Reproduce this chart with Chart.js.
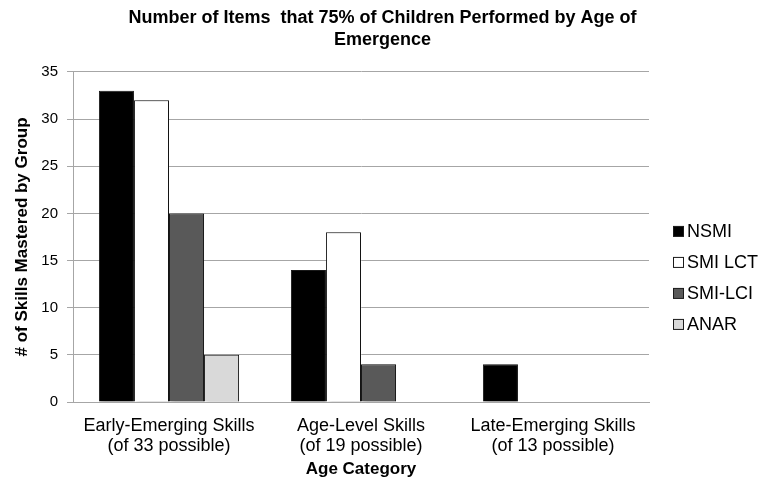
<!DOCTYPE html>
<html>
<head>
<meta charset="utf-8">
<script src="https://cdn.jsdelivr.net/npm/chart.js@4.4.1/dist/chart.umd.min.js"></script>
<style>
  html, body { margin: 0; padding: 0; background: #ffffff; }
  #wrap { width: 765px; height: 487px; position: relative; }
</style>
</head>
<body>
<div id="wrap"><canvas id="chart" width="765" height="487"></canvas></div>
<script>
// Age categories (two-line axis labels)
const categories = [
  ["Early-Emerging Skills", "(of 33 possible)"],
  ["Age-Level Skills", "(of 19 possible)"],
  ["Late-Emerging Skills", "(of 13 possible)"]
];

// Skills mastered by each group
const nsmi   = [33, 14, 4];
const smiLct = [32, 18, 0];
const smiLci = [20, 4, 0];
const anar   = [5, 0, 0];

const yTicks = [0, 5, 10, 15, 20, 25, 30, 35];

const FONT = "'Liberation Sans', Arial, sans-serif";
const GRID = '#a6a6a6';

// soft drop shadow behind the bars
const barShadow = {
  id: 'barShadow',
  beforeDatasetDraw(chart) {
    const ctx = chart.ctx;
    ctx.save();
    ctx.shadowColor = 'rgba(0,0,0,0.35)';
    ctx.shadowBlur = 3;
    ctx.shadowOffsetX = 2;
    ctx.shadowOffsetY = 1;
  },
  afterDatasetDraw(chart) {
    chart.ctx.restore();
  }
};

// compact legend to the right of the plot: small square, label right next to it
const sideLegend = {
  id: 'sideLegend',
  afterDraw(chart) {
    const ctx = chart.ctx;
    const area = chart.chartArea;
    const x0 = area.right + 24;
    const y0 = area.top + 160;
    const rowGap = 31;
    ctx.save();
    ctx.font = '18px ' + FONT;
    ctx.textBaseline = 'middle';
    ctx.textAlign = 'left';
    chart.data.datasets.forEach((ds, i) => {
      const y = y0 + i * rowGap;
      ctx.fillStyle = ds.backgroundColor;
      ctx.fillRect(x0 + 0.5, y - 5.5, 10, 10);
      ctx.strokeStyle = ds.borderColor;
      ctx.lineWidth = 1;
      ctx.strokeRect(x0 + 0.5, y - 5.5, 10, 10);
      ctx.fillStyle = '#000';
      ctx.fillText(ds.label, x0 + 14, y);
    });
    ctx.restore();
  }
};

function series(label, data, fill) {
  return {
    label: label,
    data: data,
    backgroundColor: fill,
    borderColor: '#1a1a1a',
    borderWidth: 1,
    borderSkipped: 'bottom',
    barPercentage: 1.0,
    categoryPercentage: 0.73
  };
}

new Chart(document.getElementById('chart'), {
  type: 'bar',
  data: {
    labels: categories,
    datasets: [
      series('NSMI', nsmi, '#000000'),
      series('SMI LCT', smiLct, '#ffffff'),
      series('SMI-LCI', smiLci, '#595959'),
      series('ANAR', anar, '#d9d9d9')
    ]
  },
  options: {
    responsive: false,
    animation: false,
    layout: { padding: { left: 0, right: 0, top: 7, bottom: 4 } },
    plugins: {
      title: {
        display: true,
        text: ['Number of Items  that 75% of Children Performed by Age of', 'Emergence'],
        color: '#000',
        font: { family: FONT, size: 18, weight: 'bold', lineHeight: 1.22 },
        padding: { top: 0, bottom: 21 }
      },
      legend: { display: false },
      tooltip: { enabled: false }
    },
    scales: {
      x: {
        grid: { display: false },
        border: { color: GRID, width: 1 },
        afterFit(scale) { scale.height = 81; },
        ticks: {
          color: '#000',
          font: { family: FONT, size: 18, lineHeight: 1.1 },
          maxRotation: 0,
          autoSkip: false,
          padding: 6
        },
        title: {
          display: true,
          text: 'Age Category',
          color: '#000',
          font: { family: FONT, size: 17, weight: 'bold' },
          padding: { top: 0, bottom: 3 }
        }
      },
      y: {
        min: 0,
        max: 35,
        afterBuildTicks(scale) {
          scale.ticks = yTicks.map(v => ({ value: v }));
        },
        afterFit(scale) { scale.width = 73; },
        grid: { color: GRID, lineWidth: 1, tickLength: 6, drawTicks: true },
        border: { color: GRID, width: 1 },
        ticks: {
          color: '#000',
          font: { family: FONT, size: 15 },
          padding: 9
        },
        title: {
          display: true,
          text: '# of Skills Mastered by Group',
          color: '#000',
          font: { family: FONT, size: 17, weight: 'bold' },
          padding: { top: 12, bottom: 4 }
        }
      },
      // empty right-hand axis that keeps room for the legend
      side: {
        position: 'right',
        display: true,
        afterFit(scale) { scale.width = 116; },
        grid: { display: false, drawOnChartArea: false },
        border: { display: false },
        ticks: { display: false }
      }
    }
  },
  plugins: [barShadow, sideLegend]
});
</script>
</body>
</html>
